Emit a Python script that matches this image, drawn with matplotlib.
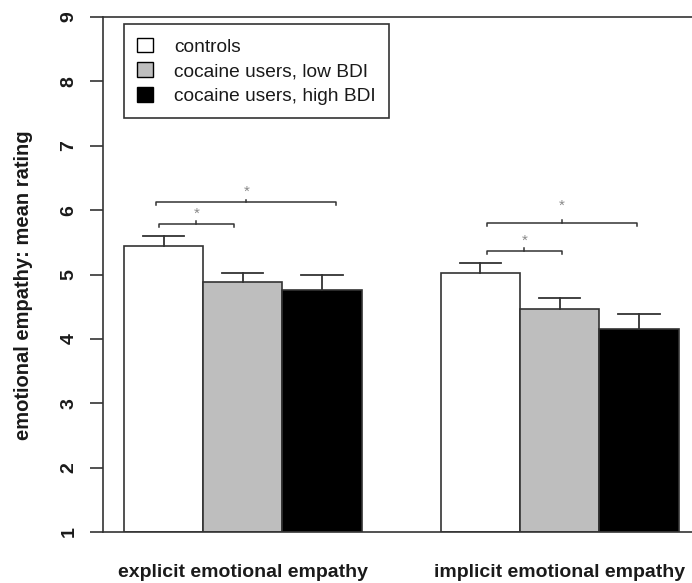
import matplotlib
matplotlib.use("Agg")
import matplotlib.pyplot as plt
from matplotlib.patches import Patch

plt.rcParams['font.family'] = ['Liberation Sans', 'DejaVu Sans']

# ---- data ----
groups = ["explicit emotional empathy", "implicit emotional empathy"]
series = ["controls", "cocaine users, low BDI", "cocaine users, high BDI"]
means = {
    "controls": [5.45, 5.03],
    "cocaine users, low BDI": [4.88, 4.46],
    "cocaine users, high BDI": [4.76, 4.15],
}
errors = {
    "controls": [0.15, 0.15],
    "cocaine users, low BDI": [0.15, 0.18],
    "cocaine users, high BDI": [0.23, 0.24],
}
colors = {"controls": "white", "cocaine users, low BDI": "#bebebe",
          "cocaine users, high BDI": "black"}
# significance brackets: (x_left, x_right, y, star_y)
brackets = [
    (1.44, 2.39, 5.78, 5.94),
    (1.41, 3.68, 6.12, 6.28),
    (5.58, 6.53, 5.37, 5.52),
    (5.58, 7.48, 5.80, 6.06),
]
yticks = [1, 2, 3, 4, 5, 6, 7, 8, 9]

fig = plt.figure(figsize=(6.92, 5.83), dpi=100)
ax = fig.add_axes([103/692, 51/583, 589/692, 515/583])

lc = "#333333"
tc = "#1a1a1a"
base = 1.0
for gi, g in enumerate(groups):
    for si, s in enumerate(series):
        left = 1 + gi * 4 + si
        h = means[s][gi] - base
        ax.bar(left, h, width=1, bottom=base, align='edge', color=colors[s],
               edgecolor=lc, linewidth=1.2, zorder=2)
        cx = left + 0.5
        top = means[s][gi]
        ax.plot([cx, cx], [top, top + errors[s][gi]], color=lc, lw=1.3, zorder=3)
        ax.plot([cx - 0.26, cx + 0.26], [top + errors[s][gi]] * 2, color=lc, lw=1.3, zorder=3)

tk = 0.045
for xl, xr, y, sy in brackets:
    ax.plot([xl, xl, xr, xr], [y - tk, y, y, y - tk], color=lc, lw=1.1)
    xm = (xl + xr) / 2
    ax.plot([xm, xm], [y, y + tk], color=lc, lw=1.1)
    ax.text(xm, sy, "*", ha='center', va='center', fontsize=11, color="#888888")

ax.set_xlim(0.735, 8.17)
ax.set_ylim(1, 9)
ax.set_yticks(yticks)
ax.set_yticklabels([str(v) for v in yticks], rotation=90, va='center',
                   fontsize=14, fontweight='bold', color=tc)
ax.tick_params(axis='y', direction='out', length=9.4, width=1.2, color=lc, pad=9)
ax.set_xticks([2.5, 6.5])
ax.set_xticklabels(groups, fontsize=14, fontweight='bold', color=tc)
ax.tick_params(axis='x', length=0, pad=23)

for sp in ['left', 'top', 'bottom']:
    ax.spines[sp].set_color(lc)
    ax.spines[sp].set_linewidth(1.2)
ax.spines['right'].set_visible(False)

ax.set_ylabel("emotional empathy: mean rating", fontsize=14.5, fontweight='bold',
              color=tc)
ax.yaxis.set_label_coords((33 - 103) / 589, 0.48)

handles = [Patch(facecolor=colors[s], edgecolor='black', linewidth=1.0) for s in series]
leg = ax.legend(handles, series, loc='upper left', bbox_to_anchor=(0.0357, 0.986),
                borderaxespad=0, fancybox=False, fontsize=13.8, handlelength=0.8,
                handleheight=0.8, handletextpad=1.1, labelspacing=0.35,
                borderpad=0.7, edgecolor=lc, framealpha=1)
leg.get_frame().set_linewidth(1.2)
for t in leg.get_texts():
    t.set_color(tc)

fig.savefig("out.png", dpi=100)
